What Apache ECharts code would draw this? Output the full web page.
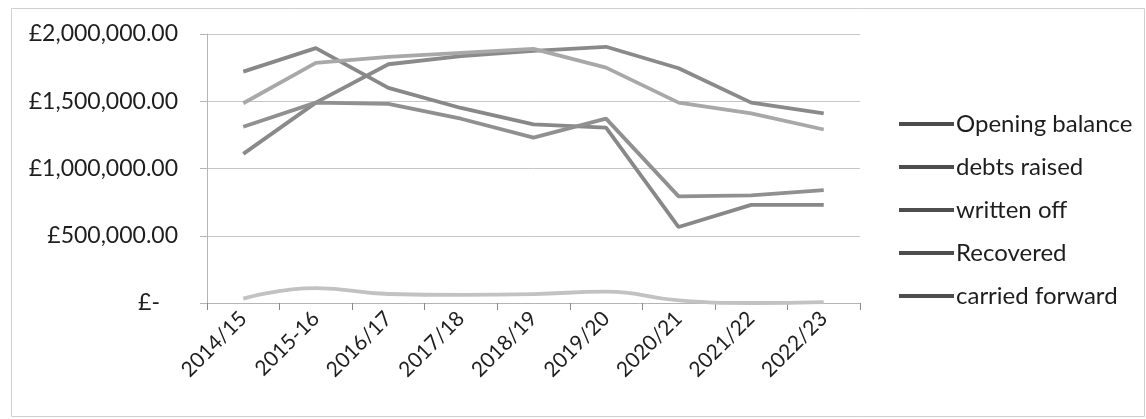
<!DOCTYPE html>
<html>
<head>
<meta charset="utf-8">
<script src="https://cdn.jsdelivr.net/npm/echarts@6/dist/echarts.min.js"></script>
<style>
html,body{margin:0;padding:0;background:#fff;}
#main{width:1146px;height:419px;}
</style>
</head>
<body>
<div id="main"></div>
<script>
const categories = ['2014/15','2015-16','2016/17','2017/18','2018/19','2019/20','2020/21','2021/22','2022/23'];
const openingBalance = [1109000, 1490000, 1775000, 1835000, 1875000, 1905000, 1745000, 1490000, 1410000];
const debtsRaised   = [1720000, 1895000, 1600000, 1450000, 1328000, 1304000, 565000, 730000, 730000];
const writtenOff    = [32000, 110000, 67000, 60000, 66000, 85000, 20000, 0, 7000];
const recovered     = [1310000, 1490000, 1480000, 1370000, 1229000, 1371000, 793000, 800000, 840000];
const carriedForward= [1485000, 1785000, 1830000, 1860000, 1890000, 1750000, 1490000, 1410000, 1290000];
const yTicks = [0, 500000, 1000000, 1500000, 2000000];

const FONT = 'Lato';
const chart = echarts.init(document.getElementById('main'));

function fmt(v){
  if (v === 0) return '{z|£-}';
  return '£' + v.toLocaleString('en-GB', {minimumFractionDigits:2, maximumFractionDigits:2});
}

function mk(name, data, color, smooth){
  return {
    name: name, type: 'line', data: data, smooth: smooth || false,
    symbol: 'none', lineStyle: {color: color, width: 3.8}, itemStyle: {color: color},
    emphasis: {disabled: true}
  };
}

chart.setOption({
  animation: false,
  backgroundColor: '#fff',
  graphic: [{
    type: 'rect', left: 9, top: 6,
    shape: {width: 1133, height: 408},
    style: {fill: 'none', stroke: '#cfcfcf', lineWidth: 1}
  }],
  grid: {left: 207, right: 286, top: 34, bottom: 116, containLabel: false},
  legend: {
    orient: 'vertical', left: 899, top: 112, itemGap: 19,
    icon: 'rect', itemWidth: 55, itemHeight: 4, padding: 0,
    itemStyle: {color: '#4d4d4d'},
    textStyle: {fontFamily: FONT, fontSize: 24, color: '#1e1e1e', padding: [0,0,0,-3]},
    data: ['Opening balance','debts raised','written off','Recovered','carried forward']
  },
  xAxis: {
    type: 'category', data: categories, boundaryGap: true,
    axisLine: {lineStyle: {color: '#b5b5b5', width: 1}},
    axisTick: {show: true, length: 7, lineStyle: {color: '#8a8a8a'}},
    axisLabel: {rotate: 45, fontFamily: FONT, fontSize: 21, color: '#1e1e1e', margin: 12, interval: 0}
  },
  yAxis: {
    type: 'value', min: 0, max: 2000000, interval: 500000,
    axisLine: {show: true, lineStyle: {color: '#b5b5b5', width: 1}},
    axisTick: {show: true, length: 7, lineStyle: {color: '#b5b5b5'}},
    splitLine: {lineStyle: {color: '#c6c6c6', width: 1}},
    axisLabel: {
      fontFamily: FONT, fontSize: 23, color: '#1e1e1e', margin: 29,
      formatter: function(v){ return fmt(v); },
      rich: {z: {fontFamily: FONT, fontSize: 23, color: '#1e1e1e', padding: [0, 18, 0, 0]}}
    }
  },
  series: [
    mk('Opening balance', openingBalance, '#8a8a8a'),
    mk('debts raised', debtsRaised, '#888888'),
    mk('written off', writtenOff, '#c2c2c2', true),
    mk('Recovered', recovered, '#909090'),
    mk('carried forward', carriedForward, '#a8a8a8')
  ]
});
</script>
</body>
</html>
